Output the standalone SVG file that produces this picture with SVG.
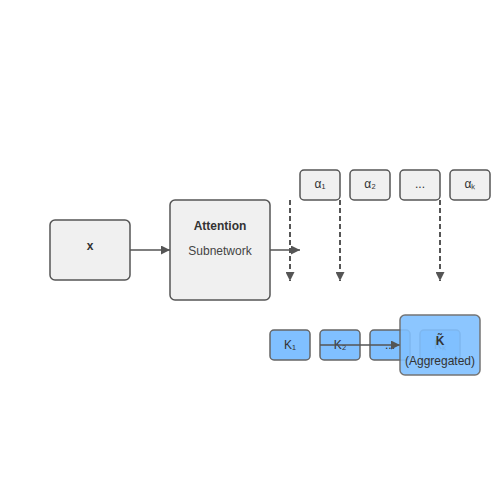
<svg xmlns="http://www.w3.org/2000/svg" width="500" height="500" viewBox="0 0 500 500">
<defs>
<style>
.n{fill:#f0f0f0;stroke:#555;stroke-width:1.5}
.k{fill:#80c0ff;stroke:#666;stroke-width:1.5}
.t{font-family:"Liberation Sans",Arial,sans-serif;font-size:12px;fill:#333;text-anchor:middle}
.s{fill:#444}
.b{font-weight:bold}
.e{stroke:#555;stroke-width:1.5;fill:none}
.d{stroke-dasharray:5 3;stroke-width:2}
</style>
<marker id="ah" viewBox="0 0 10 10" refX="10" refY="5" markerWidth="6" markerHeight="6" orient="auto">
<path d="M0,0 L10,5 L0,10 Z" fill="#555"/>
</marker>
<marker id="ahd" viewBox="0 0 10 10" refX="10" refY="5" markerWidth="4.5" markerHeight="4.5" orient="auto">
<path d="M0,0 L10,5 L0,10 Z" fill="#555"/>
</marker>
</defs>
<rect width="500" height="500" fill="#fff"/>
<g id="x"><rect class="n" x="50" y="220" width="80" height="60" rx="5"/><text class="t b" x="90" y="250">x</text></g>
<g id="attention"><rect class="n" x="170" y="200" width="100" height="100" rx="5"/><text class="t b" x="220" y="230">Attention</text><text class="t s" x="220" y="255">Subnetwork</text></g>
<g id="a1"><rect class="n" x="300" y="170" width="40" height="30" rx="4"/><text class="t" x="320" y="188">α₁</text></g>
<g id="a2"><rect class="n" x="350" y="170" width="40" height="30" rx="4"/><text class="t" x="370" y="188">α₂</text></g>
<g id="a3"><rect class="n" x="400" y="170" width="40" height="30" rx="4"/><text class="t" x="420" y="188">...</text></g>
<g id="a4"><rect class="n" x="450" y="170" width="40" height="30" rx="4"/><text class="t" x="470" y="188">αₖ</text></g>
<g id="k1"><rect class="k" x="270" y="330" width="40" height="30" rx="4"/><text class="t" x="290" y="349">K₁</text></g>
<g id="k2"><rect class="k" x="320" y="330" width="40" height="30" rx="4"/><text class="t" x="340" y="349">K₂</text></g>
<g id="k3"><rect class="k" x="370" y="330" width="40" height="30" rx="4"/><text class="t" x="390" y="349">...</text></g>
<g id="k4"><rect class="k" x="420" y="330" width="40" height="30" rx="4"/><text class="t" x="440" y="349">Kₖ</text></g>
<g id="edges">
<line class="e" x1="130" y1="250" x2="170" y2="250" marker-end="url(#ah)"/>
<line class="e" x1="270" y1="250" x2="300" y2="250" marker-end="url(#ah)"/>
<line class="e d" x1="290" y1="200" x2="290" y2="281" marker-end="url(#ahd)"/>
<line class="e d" x1="340" y1="200" x2="340" y2="281" marker-end="url(#ahd)"/>
<line class="e d" x1="440" y1="200" x2="440" y2="281" marker-end="url(#ahd)"/>
<line class="e" x1="320" y1="345" x2="400" y2="345" marker-end="url(#ah)"/>
</g>
<g id="aggregated"><rect class="k" x="400" y="315" width="80" height="60" rx="5" opacity="0.9"/><text class="t b" x="440" y="345">K̃</text><text class="t" x="440" y="365">(Aggregated)</text></g>
</svg>
